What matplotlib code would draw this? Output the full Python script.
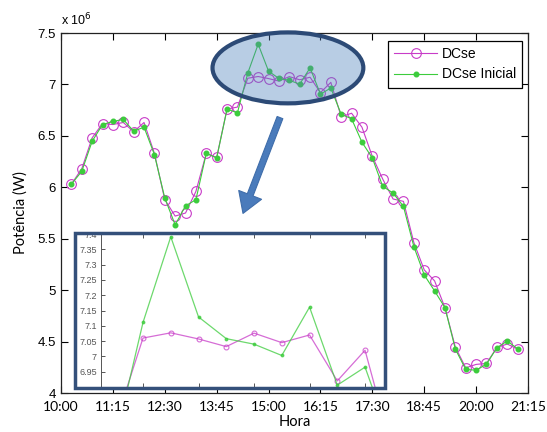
import numpy as np
import matplotlib
matplotlib.use('Agg')
import matplotlib.pyplot as plt
from matplotlib.patches import Ellipse, Rectangle, FancyArrowPatch

# horario das medicoes (a cada 15 min)
hora = ['10:15', '10:30', '10:45', '11:00', '11:15', '11:30', '11:45', '12:00',
        '12:15', '12:30', '12:45', '13:00', '13:15', '13:30', '13:45', '14:00',
        '14:15', '14:30', '14:45', '15:00', '15:15', '15:30', '15:45', '16:00',
        '16:15', '16:30', '16:45', '17:00', '17:15', '17:30', '17:45', '18:00',
        '18:15', '18:30', '18:45', '19:00', '19:15', '19:30', '19:45', '20:00',
        '20:15', '20:30', '20:45', '21:00']

# potencia em W (x 10^6)
dcse = [6.03, 6.18, 6.48, 6.62, 6.61, 6.63, 6.54, 6.63, 6.33, 5.88, 5.72, 5.75,
        5.96, 6.33, 6.29, 6.76, 6.78, 7.06, 7.077, 7.057, 7.032, 7.076, 7.045, 7.07,
        6.92, 7.02, 6.685, 6.72, 6.584, 6.30, 6.08, 5.886, 5.863, 5.463, 5.197, 5.09,
        4.829, 4.446, 4.245, 4.278, 4.288, 4.443, 4.476, 4.427]
dcse_inicial = [6.03, 6.155, 6.447, 6.61, 6.64, 6.66, 6.545, 6.585, 6.318, 5.896, 5.635, 5.82,
                5.879, 6.33, 6.285, 6.76, 6.724, 7.111, 7.391, 7.129, 7.058, 7.040, 7.003, 7.161,
                6.906, 6.965, 6.71, 6.666, 6.438, 6.285, 6.009, 5.944, 5.814, 5.424, 5.148, 4.992,
                4.83, 4.427, 4.229, 4.222, 4.28, 4.44, 4.505, 4.43]

xtick_labels = ['10:00', '11:15', '12:30', '13:45', '15:00', '16:15',
                '17:30', '18:45', '20:00', '21:15']
ytick_vals = [4, 4.5, 5, 5.5, 6, 6.5, 7, 7.5]
inset_yticks = [6.95, 7.0, 7.05, 7.1, 7.15, 7.2, 7.25, 7.3, 7.35, 7.4]
inset_xtick_labels = ['14:30', '15:00', '15:30', '16:00', '16:30']


def to_min(s):
    h, m = s.split(':')
    return int(h) * 60 + int(m)


def fmt_num(v):
    return ('%.2f' % v).rstrip('0').rstrip('.')


t = np.array([to_min(h) for h in hora])
xt = [to_min(s) for s in xtick_labels]

MAG = '#c83cc8'
GRN = '#3ccc3c'

fig = plt.figure(figsize=(5.47, 4.32), dpi=100)
ax = fig.add_axes([61 / 547, 1 - 393 / 432, 467 / 547, 360 / 432])

ax.plot(t, dcse, '-', color=MAG, lw=0.8, marker='o', ms=7, mfc='none',
        mec=MAG, mew=0.8, label='DCse')
ax.plot(t, dcse_inicial, '-', color=GRN, lw=0.8, marker='o', ms=3.3,
        mfc=GRN, mec=GRN, label='DCse Inicial')

ax.set_xlim(xt[0], xt[-1])
ax.set_ylim(4, 7.5)
ax.set_xticks(xt)
ax.set_xticklabels(xtick_labels, fontfamily='Lato', fontsize=10)
ax.set_yticks(ytick_vals)
ax.set_yticklabels([fmt_num(v) for v in ytick_vals], fontfamily='Liberation Sans', fontsize=9.5)
ax.tick_params(direction='in', length=5, top=True, right=True, width=0.8)
ax.tick_params(axis='x', pad=6)
for s in ax.spines.values():
    s.set_linewidth(0.9)
    s.set_color('#222222')

ax.set_xlabel('Hora', fontfamily='Lato', fontsize=10.5, labelpad=1)
ax.set_ylabel('Potência (W)', fontfamily='Lato', fontsize=10.5, labelpad=7)
ax.text(0.0, 1.012, 'x 10$^{6}$', transform=ax.transAxes, fontfamily='Liberation Sans',
        fontsize=9, ha='left', va='bottom')

leg = ax.legend(loc='upper right', bbox_to_anchor=(0.988, 0.978), borderaxespad=0,
                fancybox=False, edgecolor='black', framealpha=1, borderpad=0.45,
                handlelength=3.1, handletextpad=0.35,
                prop={'family': 'Liberation Sans', 'size': 10}, labelspacing=0.45)
leg.get_frame().set_linewidth(0.9)

# elipse destacando o patamar
ell = Ellipse((928, 7.161), 218, 0.69, facecolor=(0.31, 0.51, 0.74, 0.4),
              edgecolor='#2c4a76', lw=3, clip_on=False, zorder=5)
ax.add_patch(ell)

# seta para o zoom
arr = FancyArrowPatch((281 / 547, 1 - 115 / 432), (242 / 547, 1 - 216 / 432),
                      transform=fig.transFigure,
                      arrowstyle='simple,head_length=1.3,head_width=1.6,tail_width=0.4',
                      mutation_scale=11, facecolor='#4a7bbb', edgecolor='#3f6daa', lw=0.8)
fig.patches.append(arr)

# moldura do zoom
frame_bg = Rectangle((75 / 547, 1 - 388 / 432), 310 / 547, 155 / 432, transform=fig.transFigure,
                     facecolor='white', edgecolor='none', zorder=0.5)
frame_edge = Rectangle((75 / 547, 1 - 388 / 432), 310 / 547, 155 / 432, transform=fig.transFigure,
                       facecolor='none', edgecolor='#34507a', lw=2.5, zorder=3)
fig.patches.append(frame_bg)
fig.patches.append(frame_edge)

axi = fig.add_axes([101 / 547, 1 - 387 / 432, 282 / 547, 153 / 432], zorder=1)
axi.patch.set_alpha(0)
axi.plot(t, dcse, '-', color=MAG, lw=0.9, alpha=0.75, marker='o', ms=3.5, mfc='none', mec=MAG, mew=0.8)
axi.plot(t, dcse_inicial, '-', color=GRN, lw=0.9, alpha=0.75, marker='o', ms=1.8, mfc=GRN, mec=GRN)
axi.set_xlim(847.3, 999.7)
axi.set_ylim(6.90, 7.40)
axi.set_xticks([to_min(s) for s in inset_xtick_labels])
axi.set_xticklabels([])
axi.set_yticks(inset_yticks)
axi.set_yticklabels([fmt_num(v) for v in inset_yticks], fontfamily='Liberation Sans',
                    fontsize=6.5, color='#555555')
axi.tick_params(direction='in', length=3, top=True, width=0.7, colors='#555555', pad=3)
for k in ['top', 'right', 'bottom']:
    axi.spines[k].set_visible(False)
axi.spines['left'].set_color('#555555')
axi.spines['left'].set_linewidth(0.7)

fig.savefig('out.png', dpi=100)
